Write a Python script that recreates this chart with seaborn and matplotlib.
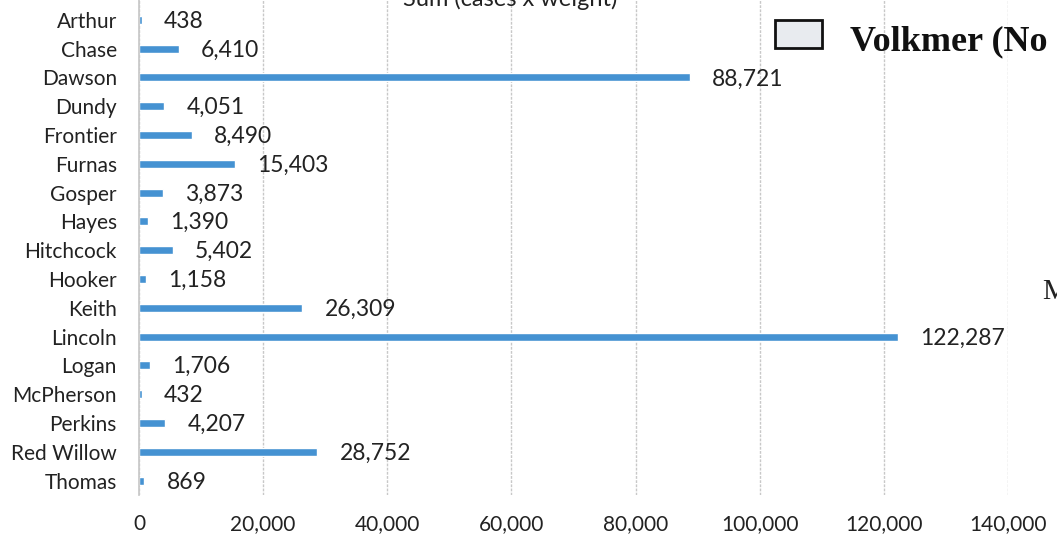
import matplotlib
matplotlib.use("Agg")
import matplotlib.pyplot as plt
from matplotlib.patches import Rectangle
import seaborn as sns
import pandas as pd

counties = ["Arthur", "Chase", "Dawson", "Dundy", "Frontier", "Furnas", "Gosper",
            "Hayes", "Hitchcock", "Hooker", "Keith", "Lincoln", "Logan",
            "McPherson", "Perkins", "Red Willow", "Thomas"]
totals = [438, 6410, 88721, 4051, 8490, 15403, 3873, 1390, 5402, 1158,
          26309, 122287, 1706, 432, 4207, 28752, 869]
x_ticks = [0, 20000, 40000, 60000, 80000, 100000, 120000, 140000]

df = pd.DataFrame({"county": counties, "total": totals})

sns.set_theme(style="white")
plt.rcParams["font.family"] = ["Lato", "DejaVu Sans"]

fig = plt.figure(figsize=(10.57, 5.51), dpi=100)
ax = fig.add_axes([0.1315, 0.1016, 0.8221, 0.8984])

bar_color = "#4592d2"
sns.barplot(data=df, x="total", y="county", orient="h", color=bar_color,
            width=0.28, saturation=1, ax=ax)

for i, v in enumerate(totals):
    ax.annotate(f"{v:,}", xy=(v, i), xytext=(16, -1), textcoords="offset points",
                va="center", ha="left", fontsize=16.5, color="#222222")

ax.set_xlim(0, 140000)
ax.set_ylim(16.5, -0.69)
ax.set_xticks(x_ticks)
ax.set_xticklabels([f"{t:,}" for t in x_ticks], fontsize=15, color="#222222")
ax.tick_params(axis="x", length=0, pad=14)
ax.tick_params(axis="y", length=0, pad=16, labelsize=15, labelcolor="#222222")
ax.set_xlabel("")
ax.set_ylabel("")
ax.grid(axis="x", color="#c8c8c8", linewidth=1.0, linestyle=(0, (2, 1)))
ax.set_axisbelow(True)
for side in ["top", "right", "bottom"]:
    ax.spines[side].set_visible(False)
ax.spines["left"].set_color("#c8c8c8")
ax.spines["left"].set_linestyle((0, (2, 1)))

# chart title, partly above the page edge
fig.text(510 / 1057, 1 + 1 / 551, "Sum (cases x weight)", ha="center", va="center",
         fontsize=17, color="#222222")

# legend swatch and heading from the surrounding page
fig.patches.append(Rectangle((775 / 1057, 1 - 48 / 551), 47 / 1057, 28 / 551,
                             transform=fig.transFigure, facecolor="#e8ebef",
                             edgecolor="#111111", linewidth=2))
fig.text(850 / 1057, 1 - 42 / 551, "Volkmer (No", ha="left", va="center",
         fontsize=26, fontweight="bold", family="Liberation Serif", color="#111111")
fig.text(1042 / 1057, 1 - 292 / 551, "M", ha="left", va="center",
         fontsize=21, family="Liberation Serif", color="#222222")

fig.savefig("out.png", dpi=100)
